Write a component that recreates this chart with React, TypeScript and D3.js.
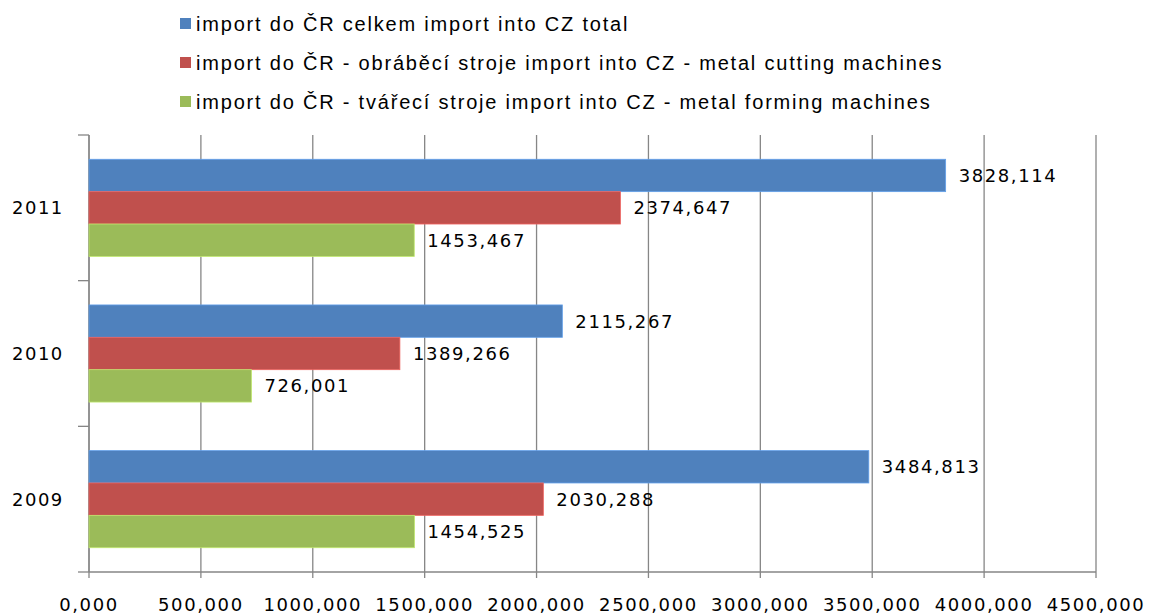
import React, { useLayoutEffect } from "react";
import * as d3 from "d3";

const years = ["2011", "2010", "2009"];
const seriesNames = [
  "import do ČR celkem import into CZ total",
  "import do ČR - obráběcí stroje import into CZ - metal cutting machines",
  "import do ČR - tvářecí stroje import into CZ - metal  forming machines",
];
const totalImport = [3828.114, 2115.267, 3484.813];
const cuttingImport = [2374.647, 1389.266, 2030.288];
const formingImport = [1453.467, 726.001, 1454.525];
const xTicks = [0, 500, 1000, 1500, 2000, 2500, 3000, 3500, 4000, 4500];
const colors = ["#4F81BD", "#C0504D", "#9BBB59"];

const W = 1153;
const H = 614;
const M = { left: 89, right: 1096, top: 135, bottom: 572 };

const fmt = (v: number) => v.toFixed(3).replace(".", ",");

export default function App() {
  useLayoutEffect(() => {
    document.body.style.margin = "0";
  }, []);

  const series = [totalImport, cuttingImport, formingImport];
  const x = d3.scaleLinear().domain([0, 4500]).range([M.left, M.right]);
  const y = d3
    .scaleBand<string>()
    .domain(years)
    .range([M.top, M.bottom])
    .paddingInner(1 / 3)
    .paddingOuter(1 / 6);
  const yInner = d3
    .scaleBand<number>()
    .domain([0, 1, 2])
    .range([0, y.bandwidth()]);
  const step = y.step();
  const boundaries = d3.range(years.length + 1).map((i) => M.top + i * step);

  const labelFont = "'DejaVu Sans', Verdana, sans-serif";
  const legendFont = "'Liberation Sans', Arial, sans-serif";

  return (
    <svg width={W} height={H} style={{ display: "block", background: "#fff" }}>
      {/* gridlines */}
      {xTicks.map((t) => (
        <line
          key={"g" + t}
          x1={x(t)}
          x2={x(t)}
          y1={M.top}
          y2={M.bottom + 6}
          stroke="#868686"
          strokeWidth={1.3}
        />
      ))}
      {/* left axis */}
      <line x1={M.left} x2={M.left} y1={M.top} y2={M.bottom} stroke="#868686" strokeWidth={1.3} />
      {boundaries.map((b, i) => (
        <line key={"yt" + i} x1={M.left - 11} x2={M.left} y1={b} y2={b} stroke="#868686" strokeWidth={1.3} />
      ))}
      {/* bottom axis */}
      <line x1={M.left} x2={M.right} y1={M.bottom} y2={M.bottom} stroke="#868686" strokeWidth={1.3} />

      {/* bars */}
      {years.map((yr, gi) => (
        <g key={yr} transform={`translate(0,${y(yr)})`}>
          {series.map((s, si) => (
            <g key={si}>
              <rect
                x={x(0)}
                y={yInner(si)}
                width={x(s[gi]) - x(0)}
                height={yInner.bandwidth()}
                fill={colors[si]}
                stroke={d3.color(colors[si])!.brighter(0.6).formatHex()}
                strokeWidth={0.8}
              />
              <text
                x={x(s[gi]) + 13}
                y={(yInner(si) as number) + yInner.bandwidth() / 2}
                dy="0.36em"
                fontFamily={labelFont}
                fontSize={18}
                letterSpacing={1.6}
                fill="#000"
              >
                {fmt(s[gi])}
              </text>
            </g>
          ))}
        </g>
      ))}

      {/* year labels */}
      {years.map((yr) => (
        <text
          key={"l" + yr}
          x={12}
          y={(y(yr) as number) + y.bandwidth() / 2}
          dy="0.36em"
          fontFamily={labelFont}
          fontSize={18}
          letterSpacing={1.5}
          fill="#000"
        >
          {yr}
        </text>
      ))}

      {/* x tick labels */}
      {xTicks.map((t) => (
        <text
          key={"xl" + t}
          x={x(t)}
          y={611}
          textAnchor="middle"
          fontFamily={labelFont}
          fontSize={18}
          letterSpacing={1.6}
          fill="#000"
        >
          {fmt(t)}
        </text>
      ))}

      {/* legend */}
      {seriesNames.map((n, i) => (
        <g key={"lg" + i} transform={`translate(180,${24 + i * 39})`}>
          <rect x={0} y={-6} width={11} height={11} fill={colors[i]} />
          <text x={16} y={0} dy="0.36em" fontFamily={legendFont} fontSize={20} letterSpacing={1.8} fill="#000">
            {n}
          </text>
        </g>
      ))}
    </svg>
  );
}
